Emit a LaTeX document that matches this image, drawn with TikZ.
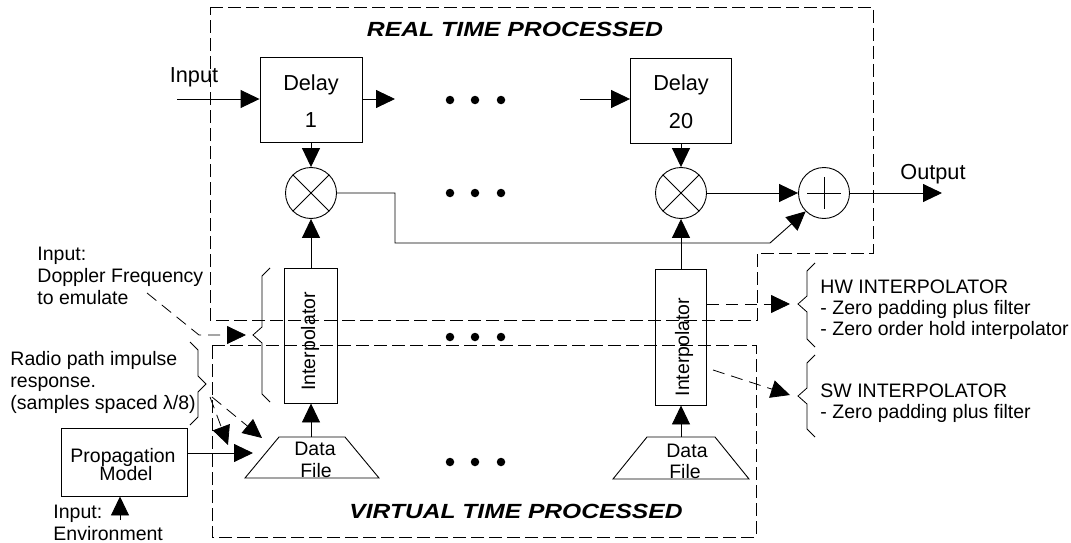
\documentclass[tikz,border=0pt]{standalone}
\usepackage{fontspec}
\setmainfont{Liberation Sans}
\usepackage{graphicx}
\usetikzlibrary{arrows.meta}
\begin{document}
\begin{tikzpicture}[x=1pt,y=-1pt,
  line width=0.9pt,
  arr/.style={-{Triangle[length=19pt,width=18pt]}},
  region/.style={dash pattern=on 13pt off 5pt, line width=0.8pt},
  lead/.style={dash pattern=on 12pt off 7pt, line width=0.8pt},
  blockbox/.style={draw, rectangle, inner sep=0pt},
  mixer/.style={draw, circle, minimum size=51pt, inner sep=0pt},
  txt/.style={font=\fontsize{19.5}{22}\selectfont, inner sep=0pt},
  bigtxt/.style={font=\fontsize{21.7}{24}\selectfont, inner sep=0pt},
  title/.style={font=\fontsize{20.5}{24}\selectfont\bfseries\itshape, inner sep=0pt},
  brace/.style={line width=0.8pt},
  dot/.style={circle, fill, inner sep=0pt, minimum size=8.5pt}
]
\useasboundingbox (0,0) rectangle (1071,543);

% processing domains
\draw[region] (210,7) -- (873,7) -- (873,253) -- (757,253) -- (757,320) -- (210,320) -- cycle;
\draw[region] (212,345) -- (756,345) -- (756,537) -- (212,537) -- cycle;
\node[title, anchor=base] (rtp) at (515,37) {\scalebox{1.21}[1]{REAL TIME PROCESSED}};
\node[title, anchor=base] (vtp) at (516,518) {\scalebox{1.2}[1]{VIRTUAL TIME PROCESSED}};

% delay line
\node[blockbox, minimum width=102pt, minimum height=85pt] (d1) at (311,99.5) {};
\node[blockbox, minimum width=101pt, minimum height=85pt] (d20) at (681,100.5) {};
\node[bigtxt, anchor=base] (d1a) at (311,90) {Delay};
\node[bigtxt, anchor=base] (d1b) at (311,127) {1};
\node[bigtxt, anchor=base] (d20a) at (681,91) {Delay};
\node[bigtxt, anchor=base] (d20b) at (681,128) {20};

% multipliers and adder
\node[mixer] (m1) at (311,193) {};
\node[mixer] (m20) at (681,193) {};
\node[mixer] (add) at (824,193) {};
\draw (m1.north west) -- (m1.south east) (m1.north east) -- (m1.south west);
\draw (m20.north west) -- (m20.south east) (m20.north east) -- (m20.south west);
\draw ([yshift=16pt]add.center) -- ([yshift=-16pt]add.center)
      ([xshift=-17pt]add.center) -- ([xshift=17pt]add.center);

% interpolators
\node[blockbox, minimum width=53pt, minimum height=135pt] (i1) at (311,335.5) {};
\node[blockbox, minimum width=51pt, minimum height=136pt] (i20) at (681,337) {};
\node[txt, rotate=90, anchor=base] (i1t) at (315,341.5) {Interpolator};
\node[txt, rotate=90, anchor=base] (i20t) at (689,347) {Interpolator};

% data files
\draw (245,478) -- (279,437) -- (345,437) -- (379,478) -- cycle;
\draw (613,479) -- (647,437) -- (715,437) -- (749,479) -- cycle;
\coordinate (df1) at (311,437);
\coordinate (df20) at (681,437);
\node[txt, anchor=base] (df1a) at (315,455) {Data};
\node[txt, anchor=base] (df1b) at (316,477) {File};
\node[txt, anchor=base] (df20a) at (687,457) {Data};
\node[txt, anchor=base] (df20b) at (685,478) {File};

% propagation model
\node[blockbox, minimum width=126pt, minimum height=68pt] (prop) at (124,462) {};
\node[txt, anchor=base] (propa) at (123,462) {Propagation};
\node[txt, anchor=base] (propb) at (126,480) {Model};

% ellipsis dots
\foreach \yy in {100,193,337,462}
  \foreach \xx in {450,475,501}
    \node[dot] (dot-\xx-\yy) at (\xx,\yy) {};

% signal path
\coordinate (inL) at (177,99);
\coordinate (d1o) at (395,99);
\coordinate (d20i) at (580,99);
\coordinate (outR) at (942,193);
\coordinate (fbA) at (395,243);
\coordinate (fbB) at (770,243);
\draw[arr] (inL) -- (inL -| d1.west);
\draw[arr] (d1.east |- d1o) -- (d1o);
\draw[arr] (d20i) -- (d20i -| d20.west);
\draw[arr] (d1.south) -- (m1.north);
\draw[arr] (d20.south) -- (m20.north);
\draw[arr] (i1.north) -- (m1.south);
\draw[arr] (i20.north) -- (m20.south);
\draw[arr] (df1) -- (i1.south);
\draw[arr] (df20) -- (i20.south);
\draw[arr] (m20.east) -- (add.west);
\draw[arr] (add.east) -- (outR);
\draw[arr] (m1.east) -| (fbA) -- (fbB) -- (add.south west);
\node[bigtxt, anchor=base] (inlab) at (194,83) {Input};
\node[bigtxt, anchor=base] (outlab) at (933,179) {Output};

% model inputs
\coordinate (envT) at (120,520);
\coordinate (pdf) at (253,453);
\draw[arr] (envT) -- (envT |- prop.south);
\draw[arr] (prop.east |- pdf) -- (pdf);

% braces
\draw[brace] (270,268) -- (262,276) -- (262,327) -- (253,335) -- (262,343) -- (262,394) -- (270,402);
\draw[brace] (190,342) -- (198,350) -- (198,376) -- (206,384) -- (198,392) -- (198,417) -- (190,425);
\draw[brace] (815,263) -- (807,271) -- (807,296) -- (798,304) -- (807,312) -- (807,339) -- (815,347);
\draw[brace] (815,355) -- (807,363) -- (807,388) -- (798,396) -- (807,404) -- (807,429) -- (815,437);

% annotation leaders
\coordinate (dopA) at (147,293);
\coordinate (dopB) at (199,335);
\coordinate (dopT) at (246,335);
\draw[lead, arr] (dopA) -- (dopB) -- (dopT);
\coordinate (rbA) at (210,397);
\coordinate (rbB) at (212,397);
\coordinate (rtA) at (228,445);
\coordinate (rtB) at (262,438);
\draw[lead, arr] (rbA) -- (rtA);
\draw[lead, arr] (rbB) -- (rtB);
\coordinate (hwT) at (790,304);
\coordinate (swS) at (713,370);
\coordinate (swT) at (790,395);
\draw[lead, arr] (i20.east |- hwT) -- (hwT);
\draw[lead, arr] (swS) -- (swT);

% annotation texts
\node[txt, anchor=base west] (dop1) at (37,260) {Input:};
\node[txt, anchor=base west] (dop2) at (37,282) {Doppler Frequency};
\node[txt, anchor=base west] (dop3) at (37,304) {to emulate};
\node[txt, anchor=base west] (rad1) at (10,365) {Radio path impulse};
\node[txt, anchor=base west] (rad2) at (10,387) {response.};
\node[txt, anchor=base west] (rad3) at (10,409) {(samples spaced λ/8)};
\node[txt, anchor=base west] (env1) at (53,518) {Input:};
\node[txt, anchor=base west] (env2) at (53,540) {Environment};
\node[txt, anchor=base west] (hw1) at (820,293) {HW INTERPOLATOR};
\node[txt, anchor=base west] (hw2) at (820,314) {- Zero padding plus filter};
\node[txt, anchor=base west] (hw3) at (820,335) {- Zero order hold interpolator};
\node[txt, anchor=base west] (sw1) at (820,397) {SW INTERPOLATOR};
\node[txt, anchor=base west] (sw2) at (820,418) {- Zero padding plus filter};
\end{tikzpicture}
\end{document}
